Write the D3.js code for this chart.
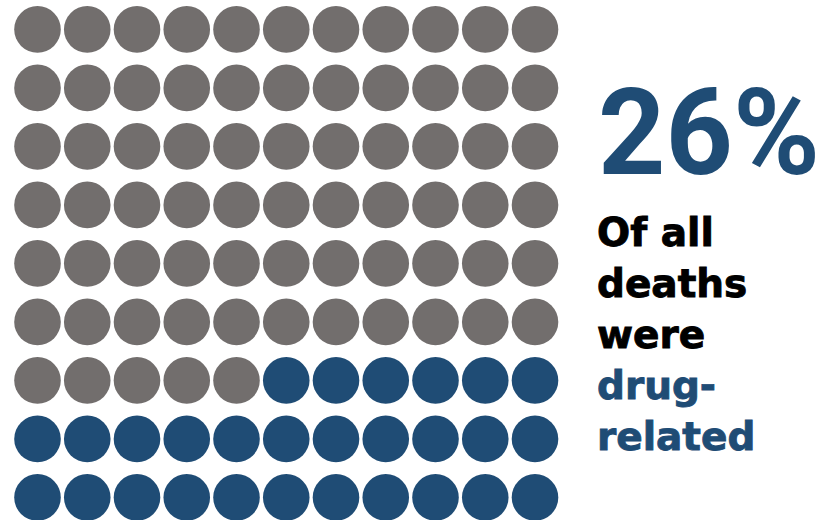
<!DOCTYPE html>
<html>
<head>
<meta charset="utf-8">
<script src="https://cdn.jsdelivr.net/npm/d3@7"></script>
<style>
  html, body { margin: 0; padding: 0; background: #ffffff; }
  svg { display: block; }
</style>
</head>
<body>
<svg id="chart" width="824" height="520"></svg>
<script>
// Waffle grid: 9 rows x 11 columns, highlighted dots fill from the bottom-right
const gridRows = 9;
const gridCols = 11;
const highlightedDots = 28;

const headline = "26%";
const captionLines = ["Of all", "deaths", "were", "drug-", "related"];
const captionHighlight = [false, false, false, true, true];

const grey = "#726e6d";
const blue = "#1f4c75";

const svg = d3.select("#chart");

const total = gridRows * gridCols;
const dots = d3.range(total).map(i => ({
  row: Math.floor(i / gridCols),
  col: i % gridCols,
  on: i >= total - highlightedDots
}));

const x = d3.scaleLinear().domain([0, gridCols - 1]).range([37.5, 535]);
const y = d3.scaleLinear().domain([0, gridRows - 1]).range([29.4, 497.4]);
const r = 23.3;

svg.append("g")
  .selectAll("circle")
  .data(dots)
  .join("circle")
  .attr("cx", d => x(d.col))
  .attr("cy", d => y(d.row))
  .attr("r", r)
  .attr("fill", d => d.on ? blue : grey);

// Headline figure
svg.append("text")
  .attr("x", 598)
  .attr("y", 174)
  .attr("font-family", "Roboto, 'DejaVu Sans', sans-serif")
  .attr("font-weight", 700)
  .attr("font-size", 120)
  .attr("fill", blue)
  .attr("textLength", 222)
  .attr("lengthAdjust", "spacingAndGlyphs")
  .text(headline);

// Caption lines (a thin same-colour stroke gives a heavier weight)
const lineY = d3.scaleLinear().domain([0, captionLines.length - 1]).range([246, 450]);
svg.append("g")
  .selectAll("text")
  .data(captionLines)
  .join("text")
  .attr("x", 597)
  .attr("y", (d, i) => lineY(i))
  .attr("font-family", "'DejaVu Sans', sans-serif")
  .attr("font-weight", 700)
  .attr("font-size", 39)
  .attr("fill", (d, i) => captionHighlight[i] ? blue : "#000000")
  .attr("stroke", (d, i) => captionHighlight[i] ? blue : "#000000")
  .attr("stroke-width", 0.9)
  .text(d => d);
</script>
</body>
</html>
